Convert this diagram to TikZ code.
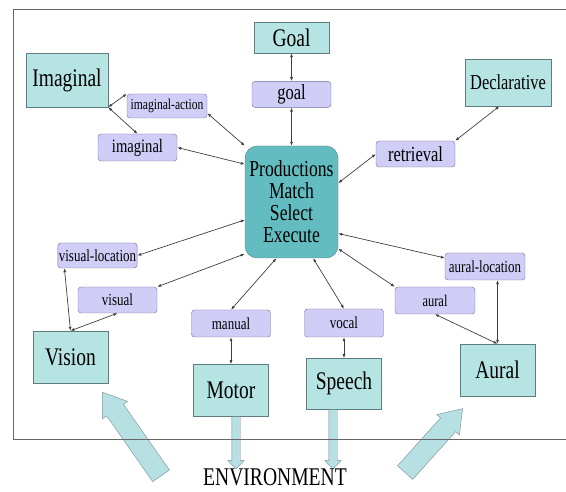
\documentclass[tikz,border=0pt]{standalone}
\usepackage{fontspec}
\setmainfont{Liberation Serif}
\usetikzlibrary{arrows.meta,positioning,shapes.arrows}

\definecolor{modfill}{RGB}{182,228,226}
\definecolor{modline}{RGB}{95,125,128}
\definecolor{prodfill}{RGB}{98,188,192}
\definecolor{buffill}{RGB}{208,206,246}
\definecolor{bufline}{RGB}{112,110,150}
\definecolor{envfill}{RGB}{182,224,226}
\definecolor{envline}{RGB}{120,140,148}

% labels in the original are drawn a little taller than wide
\newcommand{\tall}[1]{\scalebox{1}[1.3]{#1}}

\begin{document}
\begin{tikzpicture}[
  x=1pt,y=-1pt,
  module/.style={draw=modline,fill=modfill,minimum width=75pt,minimum height=52pt,inner sep=1pt,font=\fontsize{19.5}{22}\selectfont},
  buffer/.style={draw=bufline,fill=buffill,rounded corners=3pt,minimum width=79pt,minimum height=26pt,inner sep=1pt,font=\fontsize{13}{15}\selectfont},
  prodbox/.style={draw=modline,fill=prodfill,rounded corners=12pt,minimum width=93pt,minimum height=112pt,align=center,font=\fontsize{17.6}{22}\selectfont},
  link/.style={{Latex[length=4pt,width=3pt]}-{Latex[length=4pt,width=3pt]},draw=black!75,line width=0.7pt},
  bigarrow/.style={single arrow,draw=envline,fill=envfill,inner sep=10pt,single arrow head extend=5pt,single arrow tip angle=70},
  outarrow/.style={single arrow,draw=envline,fill=envfill,inner sep=4pt,single arrow head extend=4pt,single arrow tip angle=90,rotate=-90}
]
  \useasboundingbox (0,0) rectangle (566,492);

  % central production system
  \node[prodbox] (prod) at (291.5,202) {\tall{Productions}\\\tall{Match}\\\tall{Select}\\\tall{Execute}};

  % goal
  \node[module,minimum height=31pt] (goalmod) at (291.5,37.5) {\tall{Goal}};
  \node[buffer,below=28pt of goalmod,font=\fontsize{16.5}{18}\selectfont] (goalbuf) {\tall{goal}};

  % imaginal
  \node[module,minimum width=82pt,minimum height=54pt] (imagmod) at (67,80) {\tall{Imaginal}};
  \node[buffer,minimum width=80pt,minimum height=24pt,font=\fontsize{11.6}{13}\selectfont] (iactbuf) at (167,106) {\tall{imaginal-action}};
  \node[buffer,minimum height=27pt,font=\fontsize{14.6}{16}\selectfont] (imagbuf) at (137.5,147.5) {\tall{imaginal}};

  % declarative
  \node[module,minimum width=86pt,minimum height=47pt,font=\fontsize{16.4}{18}\selectfont] (declmod) at (508,82.5) {\tall{Declarative}};
  \node[buffer,font=\fontsize{16.5}{18}\selectfont] (retrbuf) at (415.5,154) {\tall{retrieval}};

  % vision
  \node[buffer,minimum height=25pt] (vlocbuf) at (97.5,255.5) {\tall{visual-location}};
  \node[buffer] (visbuf) at (117.5,300) {\tall{visual}};
  \node[module] (vismod) at (70.5,357) {\tall{Vision}};

  % motor and speech
  \node[buffer,minimum height=27pt] (manbuf) at (231,323.5) {\tall{manual}};
  \node[module,below=27pt of manbuf] (motormod) {\tall{Motor}};
  \node[buffer,minimum height=28pt] (vocbuf) at (344,323) {\tall{vocal}};
  \node[module,minimum height=51pt,below=21pt of vocbuf] (speechmod) {\tall{Speech}};

  % aural
  \node[buffer,minimum width=80pt,minimum height=27pt] (alocbuf) at (485,266.5) {\tall{aural-location}};
  \node[buffer,minimum width=80pt,minimum height=27pt,font=\fontsize{12.5}{14}\selectfont] (audbuf) at (435,300.5) {\tall{aural}};
  \node[module] (audmod) at (497.5,370) {\tall{Aural}};

  % links
  \draw[link] (goalmod) -- (goalbuf);
  \draw[link] (goalbuf) -- (prod);
  \draw[link] (imagmod.south east) -- (iactbuf.north west);
  \draw[link] (imagmod.south east) -- (imagbuf.north);
  \draw[link] (iactbuf.-10) -- (prod.north west);
  \draw[link] (imagbuf.east) -- (prod.141);
  \draw[link] (retrbuf.west) -- (prod.22);
  \draw[link] (retrbuf.north east) -- (declmod.250);
  \draw[link] (vlocbuf.east) -- (prod.201);
  \draw[link] (visbuf.north east) -- (prod.228);
  \draw[link] (vlocbuf.201) -- (vismod.north);
  \draw[link] (visbuf.south) -- (vismod.north);
  \draw[link] (manbuf.north) -- (prod.255);
  \draw[link] (manbuf) -- (motormod);
  \draw[link] (vocbuf.north) -- (prod.291);
  \draw[link] (vocbuf) -- (speechmod);
  \draw[link] (audbuf.north west) -- (prod.315);
  \draw[link] (alocbuf.168) -- (prod.326);
  \draw[link] (alocbuf.south -| audmod.north) -- (audmod.north);
  \draw[link] (audbuf.south) -- (audmod.north);

  % environment
  \node[bigarrow,minimum height=102pt,rotate=125] (envvis) at (136,440) {};
  \node[bigarrow,minimum height=86pt,rotate=48] (envaud) at (429,446) {};
  \node[outarrow,minimum height=52pt,anchor=tail] (motorout) at ([xshift=5pt]motormod.south) {};
  \node[outarrow,minimum height=59pt,anchor=tail] (speechout) at ([xshift=-11pt]speechmod.south) {};
  \node[inner sep=0pt,font=\fontsize{19.6}{22}\selectfont] (env) at (275,477) {\tall{ENVIRONMENT}};

  \draw[black!60,line width=0.8pt] (566,9) -- (13,9) -- (13,439) -- (566,439);
\end{tikzpicture}
\end{document}
